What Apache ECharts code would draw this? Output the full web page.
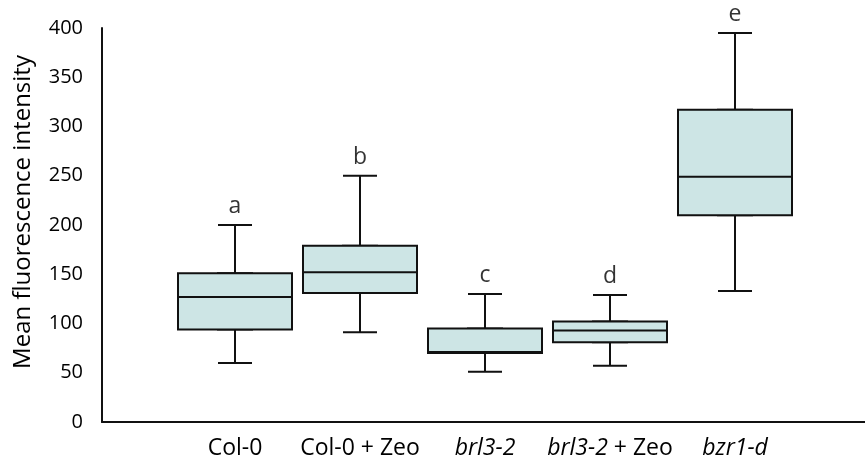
<!DOCTYPE html>
<html>
<head>
<meta charset="utf-8">
<script src="https://cdn.jsdelivr.net/npm/echarts@6/dist/echarts.min.js"></script>
<style>
    html, body { margin: 0; padding: 0; background: #fff; }
    #chart { width: 865px; height: 466px; }
</style>
</head>
<body>
<div id="chart"></div>
<script>
// box statistics
const categories = ['Col-0', 'Col-0 + Zeo', 'brl3-2', 'brl3-2 + Zeo', 'bzr1-d'];
const mins    = [60, 91, 51, 57, 133];
const q1s     = [94, 131, 70, 81, 210];
const medians = [127, 152, 71, 93, 249];
const q3s     = [151, 179, 95, 102, 317];
const maxs    = [200, 250, 130, 129, 395];
const letters = ['a', 'b', 'c', 'd', 'e'];
const yTicks = { min: 0, max: 400, interval: 50 };

const font = 'Open Sans';
const ink = '#000';
const line = '#111';
const fill = '#cde5e5';

// whiskers drawn with a narrow box (gives short caps), wide box drawn on top
const whiskerData = categories.map((c, i) => [mins[i], q1s[i], medians[i], q3s[i], maxs[i]]);
const boxData = categories.map((c, i) => [q1s[i], q1s[i], medians[i], q3s[i], q3s[i]]);

function catLabel(name) {
    let m = name.match(/^(brl3-2|bzr1-d)(.*)$/);
    if (!m) return '{n|' + name + '}';
    return '{i|' + m[1] + '}' + (m[2] ? '{n|' + m[2] + '}' : '');
}

const chart = echarts.init(document.getElementById('chart'));

const hiddenCat = {
    type: 'category',
    gridIndex: 0,
    data: categories,
    show: false
};

chart.setOption({
    animation: false,
    grid: [
        { left: 172.5, width: 625, top: 28, bottom: 44 },
        { left: 102, right: 0, top: 28, bottom: 44 }
    ],
    xAxis: [
        {
            type: 'category',
            gridIndex: 0,
            data: categories,
            axisLine: { show: false },
            axisTick: { show: false },
            axisLabel: {
                interval: 0,
                margin: 15,
                formatter: catLabel,
                rich: {
                    n: { fontFamily: font, fontSize: 23, color: ink },
                    i: { fontFamily: font, fontSize: 23, color: ink, fontStyle: 'italic' }
                }
            }
        },
        {
            type: 'value',
            gridIndex: 1,
            min: 0,
            max: 1,
            axisLine: { show: true, lineStyle: { color: line, width: 2 } },
            axisTick: { show: false },
            axisLabel: { show: false },
            splitLine: { show: false }
        },
        hiddenCat
    ],
    yAxis: [
        {
            type: 'value',
            gridIndex: 0,
            min: yTicks.min,
            max: yTicks.max,
            interval: yTicks.interval,
            offset: 70.5,
            name: 'Mean fluorescence intensity',
            nameLocation: 'middle',
            nameGap: 67,
            nameTextStyle: { fontFamily: font, fontSize: 24, color: ink, padding: [0, 0, 0, 26] },
            axisLine: { show: true, lineStyle: { color: line, width: 2 } },
            axisTick: { show: false },
            splitLine: { show: false },
            axisLabel: { fontFamily: font, fontSize: 20, color: ink, margin: 19 }
        },
        { type: 'value', gridIndex: 1, show: false, min: 0, max: 1 }
    ],
    series: [
        {
            type: 'boxplot',
            xAxisIndex: 2,
            yAxisIndex: 0,
            boxWidth: [34, 34],
            data: whiskerData,
            itemStyle: { color: fill, borderColor: line, borderWidth: 2 },
            emphasis: { disabled: true }
        },
        {
            type: 'boxplot',
            xAxisIndex: 0,
            yAxisIndex: 0,
            boxWidth: [114, 114],
            data: boxData,
            itemStyle: { color: fill, borderColor: line, borderWidth: 2 },
            emphasis: { disabled: true }
        },
        {
            type: 'scatter',
            xAxisIndex: 0,
            yAxisIndex: 0,
            data: maxs,
            symbolSize: 0,
            silent: true,
            label: {
                show: true,
                position: 'top',
                distance: 7,
                formatter: p => letters[p.dataIndex],
                fontFamily: font,
                fontSize: 23,
                color: ink
            }
        }
    ]
});
</script>
</body>
</html>
